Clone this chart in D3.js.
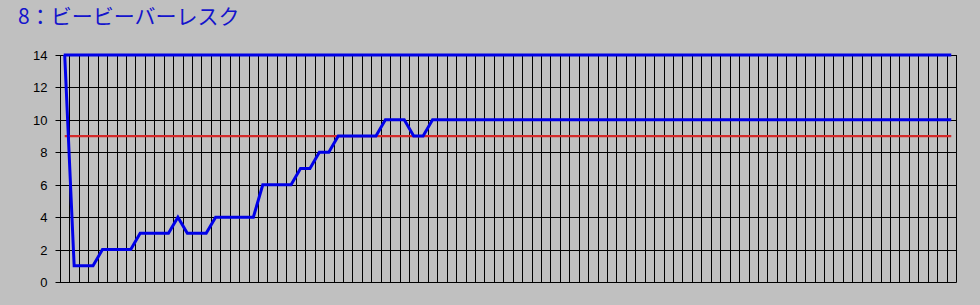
<!DOCTYPE html>
<html>
<head>
<meta charset="utf-8">
<script src="https://cdn.jsdelivr.net/npm/d3@7"></script>
<style>
  html, body { margin: 0; padding: 0; background: #c0c0c0; }
  svg { display: block; }
</style>
</head>
<body>
<script>
const width = 980;
const height = 305;
const margin = { left: 60, right: 24, top: 55, bottom: 23 };

const title = "8：ビービーバーレスク";

// one value per game
const values = [
    14,
    1, 1, 1,
    2, 2, 2, 2,
    3, 3, 3, 3,
    4,
    3, 3, 3,
    4, 4, 4, 4, 4,
    6, 6, 6, 6,
    7, 7,
    8, 8,
    9, 9, 9, 9, 9,
    10, 10, 10,
    9, 9,
    10, 10, 10, 10, 10, 10, 10, 10, 10, 10, 10, 10, 10, 10,
    10, 10, 10, 10, 10, 10, 10, 10, 10, 10, 10, 10, 10, 10,
    10, 10, 10, 10, 10, 10, 10, 10, 10, 10, 10, 10, 10, 10,
    10, 10, 10, 10, 10, 10, 10, 10, 10, 10, 10, 10, 10, 10
];
const games = values.map((d, i) => i + 1);
const yTicks = [0, 2, 4, 6, 8, 10, 12, 14];
const redLevel = 9;
const topLevel = 14;

const blue = "#0000e8";
const red = "#d42a2a";
const gridColor = "#000";

const svg = d3.select("body")
    .append("svg")
    .attr("width", width)
    .attr("height", height)
    .style("background", "#c0c0c0");

const x = d3.scaleBand()
    .domain(games)
    .range([margin.left, width - margin.right])
    .padding(0);

const y = d3.scaleLinear()
    .domain([0, 14])
    .range([height - margin.bottom, margin.top]);

const cx = g => x(g) + x.bandwidth() / 2;

// title
svg.append("text")
    .attr("x", 18)
    .attr("y", 24)
    .attr("fill", "#1414cc")
    .style("font-family", "'Noto Sans CJK JP', sans-serif")
    .style("font-size", "21px")
    .text(title);

// vertical gridlines at category boundaries
svg.append("g")
    .selectAll("line")
    .data(games.slice(1))
    .join("line")
    .attr("x1", d => Math.round(x(d)) + 0.5)
    .attr("x2", d => Math.round(x(d)) + 0.5)
    .attr("y1", y(14))
    .attr("y2", y(0))
    .attr("stroke", gridColor)
    .attr("stroke-width", 1);

// y axis with horizontal gridlines
const yAxis = svg.append("g")
    .attr("transform", `translate(${margin.left + 0.5},0)`)
    .call(d3.axisLeft(y).tickValues(yTicks).tickSize(0).tickPadding(13));

yAxis.select(".domain").remove();
yAxis.selectAll(".tick line")
    .attr("x1", -5)
    .attr("x2", width - margin.right - margin.left)
    .attr("stroke", gridColor)
    .attr("stroke-width", 1);
yAxis.selectAll(".tick text")
    .attr("fill", "#000")
    .style("font-family", "'Liberation Sans', Arial, sans-serif")
    .style("font-size", "13px");
yAxis.selectAll(".tick").attr("transform", d => `translate(0,${Math.round(y(d)) + 0.5})`);

// left and right edges of the plot
svg.append("g")
    .selectAll("line")
    .data([margin.left, width - margin.right])
    .join("line")
    .attr("x1", d => d + 0.5)
    .attr("x2", d => d + 0.5)
    .attr("y1", y(14))
    .attr("y2", y(0) + 0.5)
    .attr("stroke", gridColor)
    .attr("stroke-width", 1);

const first = games[0];
const last = games[games.length - 1];

// red reference line
svg.append("line")
    .attr("x1", cx(first))
    .attr("x2", cx(last))
    .attr("y1", y(redLevel))
    .attr("y2", y(redLevel))
    .attr("stroke", red)
    .attr("stroke-width", 2.2);

// blue line at the top
svg.append("line")
    .attr("x1", cx(first) - 1)
    .attr("x2", cx(last))
    .attr("y1", y(topLevel))
    .attr("y2", y(topLevel))
    .attr("stroke", blue)
    .attr("stroke-width", 3);

// main series
const line = d3.line()
    .x((d, i) => cx(games[i]))
    .y(d => y(d));

svg.append("path")
    .datum(values)
    .attr("d", line)
    .attr("fill", "none")
    .attr("stroke", blue)
    .attr("stroke-width", 3)
    .attr("stroke-linejoin", "miter");
</script>
</body>
</html>
